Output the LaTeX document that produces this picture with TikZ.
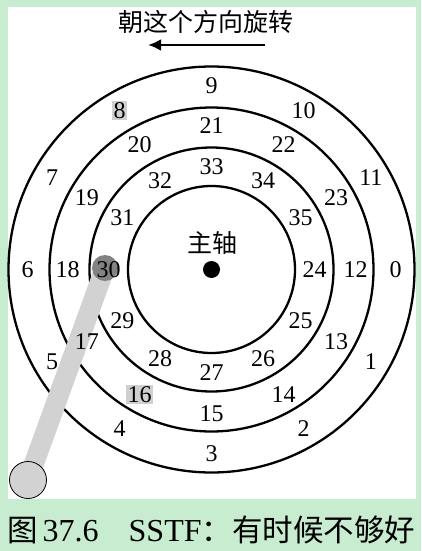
\documentclass[tikz,border=0pt]{standalone}
\usepackage{fontspec}
\setmainfont{Liberation Serif}
\newfontfamily\cjk{Noto Sans CJK SC}
\usetikzlibrary{calc,arrows.meta}
\definecolor{bggreen}{RGB}{200,236,207}
\definecolor{armgray}{RGB}{210,210,210}
\definecolor{headgray}{RGB}{130,130,130}
\definecolor{boxgray}{RGB}{208,208,208}
\begin{document}
\begin{tikzpicture}[x=1pt,y=-1pt,
  track/.style={draw=black,line width=2.3pt},
  num/.style={font=\fontsize{24}{24}\selectfont,inner sep=1.5pt},
  hl/.style={num,fill=boxgray},
  cjktext/.style={font=\cjk\fontsize{25}{25}\selectfont,inner sep=0pt}]
% background
\fill[bggreen] (0,0) rectangle (421,551);
\useasboundingbox (0,0) rectangle (421,551);
\fill[white] (8,7) rectangle (416,499);
% tracks
\coordinate (O) at (211.5,269.5);
\draw[track] (O) circle[radius=83.5pt];
\draw[track] (O) circle[radius=122pt];
\draw[track] (O) circle[radius=162pt];
\draw[track] (O) circle[radius=203pt];
% arm
\coordinate (headc) at (105,268);
\coordinate (footc) at (28,480);
\draw[armgray,line width=20pt] (headc) -- (footc);
\node[circle,fill=headgray,minimum size=26pt,inner sep=0pt] (head) at (headc) {};
\node[circle,draw=black,line width=0.8pt,fill=armgray,minimum size=37pt,inner sep=0pt] (foot) at (footc) {};
% spindle
\node[circle,fill=black,minimum size=17pt,inner sep=0pt] (spindle) at (O) {};
\node[cjktext] (spl) at (212,243) {主轴};
% sector labels
\foreach \k in {0,...,7,9,10,11}
  \node[num] (s\k) at ($(O)+(-30*\k:184pt)$) {\k};
\node[hl] (s8) at ($(O)+(-240:184pt)$) {8};
\foreach \k in {12,...,15,17,18,...,23}
  \node[num] (s\k) at ($(O)+(-30*\k+360:144pt)$) {\k};
\node[hl] (s16) at ($(O)+(-120:144pt)$) {16};
\foreach \k in {24,...,35}
  \node[num] (s\k) at ($(O)+(-30*\k+720:103pt)$) {\k};
% rotation hint
\node[cjktext] (title) at (206,22) {朝这个方向旋转};
\coordinate (arS) at (265,45);
\coordinate (arE) at (148,45);
\draw[line width=2.6pt,-{Latex[length=13pt,width=12pt]}] (arS) -- (arE);
% caption
\node[anchor=west,inner sep=0pt] (cap) at (7,530)
  {{\cjk\fontsize{30.5}{30.5}\selectfont 图}\hspace{5pt}{\fontsize{32}{32}\selectfont 37.6\hspace{30pt}SSTF}{\cjk\fontsize{30.5}{30.5}\selectfont ：有时候不够好}};
\end{tikzpicture}
\end{document}
